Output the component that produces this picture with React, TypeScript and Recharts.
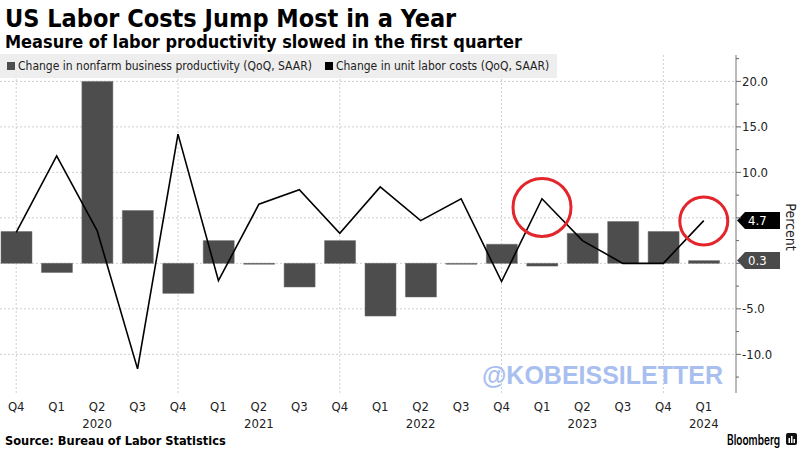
import React from 'react';
import { ComposedChart, Bar, Line, XAxis, YAxis, CartesianGrid, ReferenceDot, ReferenceLine } from 'recharts';

const quarters = ['Q4', 'Q1', 'Q2', 'Q3', 'Q4', 'Q1', 'Q2', 'Q3', 'Q4', 'Q1', 'Q2', 'Q3', 'Q4', 'Q1', 'Q2', 'Q3', 'Q4', 'Q1'];
const years = [2019, 2020, 2020, 2020, 2020, 2021, 2021, 2021, 2021, 2022, 2022, 2022, 2022, 2023, 2023, 2023, 2023, 2024];
// change in nonfarm business productivity (QoQ, SAAR)
const productivity = [3.5, -1.0, 20.0, 5.8, -3.3, 2.5, -0.1, -2.6, 2.5, -5.8, -3.7, -0.1, 2.1, -0.3, 3.3, 4.6, 3.5, 0.3];
// change in unit labor costs (QoQ, SAAR)
const laborCosts = [3.4, 11.8, 3.6, -11.6, 14.2, -1.9, 6.5, 8.1, 3.3, 8.4, 4.7, 7.1, -2.0, 7.1, 2.5, 0.0, 0.0, 4.7];

const yTicks = [-12.5, -10, -7.5, -5, -2.5, 0, 2.5, 5, 7.5, 10, 12.5, 15, 17.5, 20, 22.5];
const gridValues = [-10, -5, 0, 5, 10, 15, 20];
const circled = [
  { key: '2023 Q1', y: 6.15, r: 29 },
  { key: '2024 Q1', y: 4.66, r: 24 },
];
const lastTags = [
  { value: 4.7, fill: '#000000' },
  { value: 0.3, fill: '#4a4a4a' },
];

const data = quarters.map((q, i) => ({
  key: `${years[i]} ${q}`,
  productivity: productivity[i],
  laborCosts: laborCosts[i],
}));
const q4Keys = data.filter(d => d.key.endsWith('Q4')).map(d => d.key);

const FONT = "'DejaVu Sans Condensed', 'DejaVu Sans', sans-serif";
const BAR_COLOR = '#4d4d4d';

const XTick = ({ x, y, payload, index }: any) => {
  const [year, q] = String(payload.value).split(' ');
  const showYear = q === 'Q2' || index === data.length - 1;
  return (
    <g>
      <text x={x} y={y + 17.5} textAnchor="middle" fontSize={13} fill="#222" fontFamily={FONT}>{q}</text>
      {showYear && (
        <text x={x} y={y + 34.5} textAnchor="middle" fontSize={13} fill="#222" fontFamily={FONT}>{year}</text>
      )}
    </g>
  );
};

const YTick = ({ x, y, payload }: any) => {
  const v = payload.value;
  const major = v % 5 === 0;
  const showLabel = major && v !== 0 && v !== 5;
  return (
    <g>
      <line x1={x} x2={x + (major ? 5 : 3)} y1={y} y2={y} stroke="#666" />
      {showLabel && (
        <text x={x + 6} y={y + 4.5} fontSize={13} fill="#222" fontFamily={FONT}>{v.toFixed(1)}</text>
      )}
    </g>
  );
};

const tagLabel = (fill: string, value: number) => (props: any) => {
  const vb = props.viewBox || {};
  const ax = (vb.x || 0) + (vb.width || 0);
  const y = vb.y || 0;
  const h = 8.5;
  const pts = `${ax + 1},${y} ${ax + 9},${y - h} ${ax + 44},${y - h} ${ax + 44},${y + h} ${ax + 9},${y + h}`;
  return (
    <g>
      <polygon points={pts} fill={fill} />
      <text x={ax + 12} y={y + 4.5} fontSize={13} fill="#fff" fontFamily={FONT}>{value.toFixed(1)}</text>
    </g>
  );
};

const percentLabel = (props: any) => {
  const vb = props.viewBox || {};
  const cx = vb.x + 50;
  const cy = vb.y + vb.height / 2 + 3;
  return (
    <text x={cx} y={cy} transform={`rotate(90 ${cx} ${cy})`} textAnchor="middle" fontSize={14} fill="#222" fontFamily={FONT}>
      Percent
    </text>
  );
};

export default function App() {
  return (
    <div style={{ position: 'absolute', left: 0, top: 0, width: 800, height: 450, overflow: 'hidden', background: '#fff', fontFamily: FONT }}>
      <div style={{ position: 'absolute', left: -4, top: 0 }}>
        <ComposedChart width={804} height={450} data={data} margin={{ top: 55, right: 0, bottom: 0, left: 0 }} barSize={31}>
          <CartesianGrid
            stroke="#cfcfcf"
            strokeDasharray="2 2"
            horizontalValues={gridValues}
            verticalCoordinatesGenerator={({ xAxis, offset }: any) => {
              const s = xAxis && xAxis.scale;
              if (s && typeof s === 'function') {
                const bw = s.bandwidth ? s.bandwidth() : 0;
                return q4Keys.map(k => s(k) + bw / 2);
              }
              const bw = (offset.width - 12) / data.length;
              return q4Keys.map(k => offset.left + bw * (data.findIndex(d => d.key === k) + 0.5));
            }}
          />
          <XAxis
            dataKey="key"
            height={57}
            axisLine={false}
            tickLine={false}
            tickSize={0}
            tickMargin={0}
            interval={0}
            padding={{ left: 0, right: 12 }}
            tick={<XTick />}
          />
          <YAxis
            orientation="right"
            width={64}
            domain={[-14.25, 22.9]}
            allowDataOverflow
            ticks={yTicks}
            interval={0}
            tickSize={0}
            tickMargin={0}
            tickLine={false}
            axisLine={{ stroke: '#777' }}
            tick={<YTick />}
            label={percentLabel}
          />
          <Bar dataKey="productivity" fill={BAR_COLOR} stroke="#6a6a6a" strokeWidth={0.5} isAnimationActive={false} />
          <Line
            dataKey="laborCosts"
            type="linear"
            stroke="#000"
            strokeWidth={1.6}
            dot={false}
            activeDot={false}
            isAnimationActive={false}
          />
          {circled.map(c => (
            <ReferenceDot key={c.key} x={c.key} y={c.y} r={c.r} fill="none" stroke="#e3262b" strokeWidth={3} ifOverflow="visible" />
          ))}
          {lastTags.map(t => (
            <ReferenceLine key={t.value} y={t.value} stroke="none" ifOverflow="visible" label={tagLabel(t.fill, t.value)} />
          ))}
        </ComposedChart>
      </div>

      <div
        style={{
          position: 'absolute', left: 0, top: 54, width: 557, height: 24,
          background: 'rgba(236,236,236,0.88)', display: 'flex', alignItems: 'center',
          fontSize: 12, color: '#222', whiteSpace: 'nowrap',
        }}
      >
        <span style={{ display: 'inline-block', width: 8, height: 8, background: BAR_COLOR, marginLeft: 7, marginRight: 3 }} />
        <span>Change in nonfarm business productivity (QoQ, SAAR)</span>
        <span style={{ display: 'inline-block', width: 8, height: 8, background: '#000', marginLeft: 13, marginRight: 3 }} />
        <span>Change in unit labor costs (QoQ, SAAR)</span>
      </div>

      <svg width={800} height={450} style={{ position: 'absolute', left: 0, top: 0, pointerEvents: 'none' }}>
        <text x={5} y={27} fontSize={25} fontWeight="bold" fill="#000" fontFamily={FONT}>
          US Labor Costs Jump Most in a Year
        </text>
        <text x={5} y={48} fontSize={18} fontWeight="bold" fill="#000" fontFamily={FONT}>
          Measure of labor productivity slowed in the first quarter
        </text>
        <text x={482} y={384} fontSize={26} fontWeight="bold" fill="#a9bff0" fontFamily="'Liberation Sans', Arial, sans-serif" textLength={241} lengthAdjust="spacingAndGlyphs">
          @KOBEISSILETTER
        </text>
        <text x={5} y={445} fontSize={12.7} fontWeight="bold" fill="#000" fontFamily={FONT}>
          Source: Bureau of Labor Statistics
        </text>
        <text x={727} y={445} fontSize={14} fontWeight={600} fill="#000" fontFamily="Inter, 'Liberation Sans', sans-serif" textLength={53} lengthAdjust="spacingAndGlyphs">
          Bloomberg
        </text>
        <rect x={786} y={433} width={11} height={12} rx={2} fill="#111" />
        <rect x={788.5} y={438} width={1.5} height={5} fill="#fff" />
        <rect x={791} y={436} width={1.5} height={7} fill="#fff" />
        <rect x={793.5} y={439} width={1.5} height={4} fill="#fff" />
      </svg>
    </div>
  );
}
